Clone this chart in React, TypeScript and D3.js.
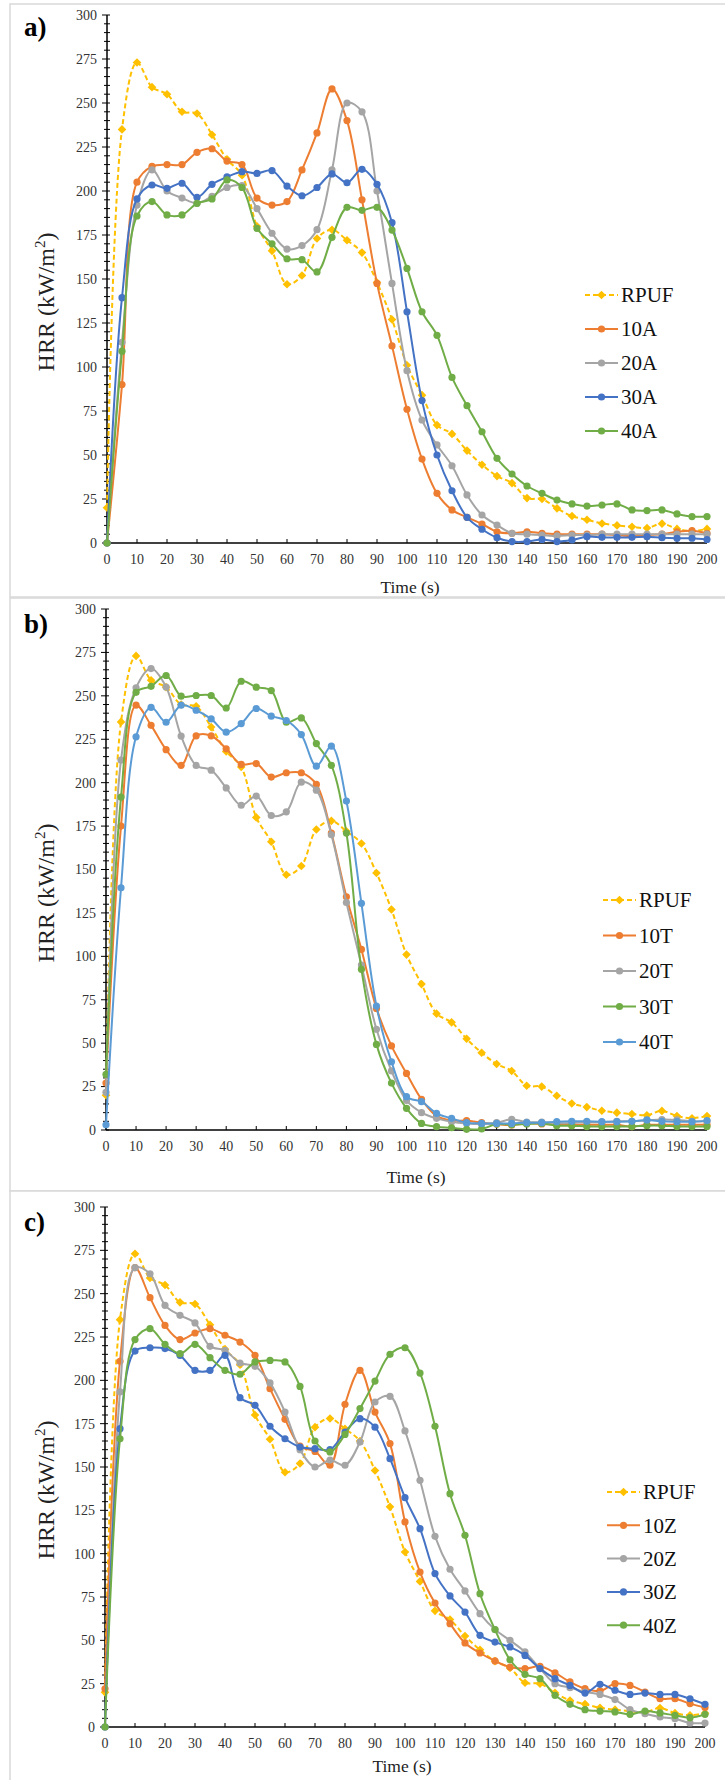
import React from 'react';
import * as d3 from 'd3';

// Time axis (s) shared by every series
const TIME = [0, 5, 10, 15, 20, 25, 30, 35, 40, 45, 50, 55, 60, 65, 70, 75, 80, 85, 90, 95, 100,
  105, 110, 115, 120, 125, 130, 135, 140, 145, 150, 155, 160, 165, 170, 175, 180, 185, 190, 195, 200];

const X_TICKS = [0, 10, 20, 30, 40, 50, 60, 70, 80, 90, 100, 110, 120, 130, 140, 150, 160, 170, 180, 190, 200];
const Y_TICKS = [0, 25, 50, 75, 100, 125, 150, 175, 200, 225, 250, 275, 300];

// Heat release rate (kW/m²) — neat foam reference
const RPUF = [20, 235, 273, 259, 255, 245, 244, 232, 218, 209, 180, 166, 147, 152, 173, 178, 172, 165, 148, 127,
  101, 84, 67, 62, 52.5, 44.5, 38, 34, 25.5, 25, 19.7, 15.3, 13.2, 11.1, 10, 9.2, 8.5, 11, 8, 6.8, 8];

// Series A
const A10 = [0, 90, 205, 214, 215, 215, 222, 224, 217, 215, 196, 192, 194, 212, 233, 258, 240, 195, 147.5, 112,
  76, 47.7, 28.2, 18.8, 14.6, 10.8, 6.4, 5.5, 6.4, 5.5, 5, 5, 5, 5, 4.5, 4, 4.5, 5, 6.4, 7, 5.5];
const A20 = [0, 114, 192, 212, 200, 196, 193, 197, 202, 203, 190, 176, 167, 169, 178, 212, 250, 245, 200, 147.5,
  97.9, 69.9, 55.7, 43.9, 27.3, 15.9, 10.2, 5.5, 5, 4.5, 4, 4.5, 4.5, 5, 5, 5, 5, 5, 5, 5, 5];
const A30 = [0, 139.4, 195.5, 203.4, 201.5, 204.4, 196.4, 203.8, 208, 211, 210, 211.6, 202.8, 197.3, 202, 209.7, 204.7, 212.3, 203.8, 182,
  131.4, 80.9, 50, 29.7, 14.6, 7.8, 3, 0.8, 0.8, 2, 0.8, 1.7, 3.6, 3.2, 3.2, 3.2, 3.6, 3, 2.7, 2.7, 2];
const A40 = [0, 109, 185.8, 194, 186.4, 186.4, 193, 195.5, 206.3, 202, 178.8, 170, 161.5, 161, 154, 173.7, 190.7, 189, 190.7, 177.8,
  156, 131.4, 118, 94.1, 78, 63.2, 48.1, 39.2, 32.4, 28.2, 24.4, 22.2, 21, 21.6, 22.2, 18.8, 18.4, 18.8, 16.5, 15, 15];

// Series T
const T10 = [27, 175, 244.6, 233, 219, 210, 227, 227, 219.5, 210.5, 211, 203.2, 205.7, 205.7, 199, 171, 134.3, 104, 70, 48.4,
  32.6, 17.7, 8, 5.5, 5.4, 4.2, 3.4, 2.9, 3.8, 3.5, 3, 3, 3, 3, 3, 2, 3, 3, 3, 3, 3];
const T20 = [21.7, 213, 254.6, 265.7, 255.1, 226.8, 209.9, 207.2, 197, 187, 192.3, 181.1, 183.2, 200.3, 195.7, 170, 131, 95, 58, 34,
  17, 10, 6.7, 4.8, 3.8, 3.4, 4.2, 6.1, 4.5, 4.5, 4, 4, 4.5, 4.5, 5, 5, 5.5, 6, 5.8, 5, 5];
const T30 = [32, 191.7, 252, 255.5, 261.7, 249.8, 250.2, 250.2, 243, 258.4, 255, 253, 234.8, 237.3, 222.5, 210, 171, 92.5, 49.3, 27,
  12.5, 3.8, 1.9, 1.3, 0.4, 0.6, 3.4, 3, 3.5, 3.8, 2.5, 2.5, 2, 2, 2, 2, 2.5, 2.5, 2, 2, 2];
const T40 = [3, 139.5, 226.4, 243.4, 234.8, 244.6, 241.7, 236.7, 229.1, 234, 242.7, 238.3, 235.8, 227.7, 209.5, 221, 189.4, 130.5, 71.4, 39.3,
  19.2, 16.3, 9.6, 6.7, 4.2, 3.8, 3.8, 3.8, 4.2, 4.2, 4.8, 5, 5, 4.8, 4.8, 5, 5.8, 5, 4.8, 4.8, 5.4];

// Series Z
const Z10 = [22, 211, 265, 247.7, 231.7, 223.5, 227.3, 229.8, 226, 222.1, 214.4, 195.2, 177.5, 162, 159, 151, 186.2, 205.8, 181.7, 163.5,
  118.3, 89.4, 71.5, 59.6, 48.5, 42.7, 38.1, 34.6, 33.7, 35, 31.2, 26, 22.1, 20.8, 25, 24, 20.2, 16.3, 16.3, 13.5, 11.2];
const Z20 = [0, 193.3, 265, 261.5, 243.3, 237.5, 233.1, 219.6, 217.3, 210, 208.1, 198.5, 181.7, 160, 150, 154, 151, 164.4, 187.5, 190.8,
  170.8, 142.3, 110, 91, 78.5, 65.4, 56.2, 50, 43.3, 33.7, 25, 22.7, 20.2, 18.8, 15.8, 10, 7.7, 5.8, 4.8, 2.3, 2.3];
const Z30 = [0, 172.1, 216.9, 218.8, 218.3, 214.4, 205.8, 205.8, 214.4, 190, 185.6, 173.5, 166.3, 161.5, 160.6, 160, 170.2, 177.9, 173, 154.8,
  132.3, 114.4, 88.5, 75.6, 66.3, 52.9, 49, 46.2, 41.3, 33.7, 27.9, 24, 19.6, 24.6, 21.2, 18.8, 19.6, 18.8, 18.8, 16.3, 13.1];
const Z40 = [0, 166.3, 223.5, 229.8, 220.8, 215.4, 220.8, 213.1, 205.8, 203.5, 210.6, 211.5, 210.6, 196.5, 165, 158.7, 168.8, 183.7, 199.6, 215,
  218.8, 204.2, 173.5, 134.6, 110.6, 76.9, 56.2, 38.8, 30.4, 27.9, 18.3, 13.1, 10, 9.2, 8.7, 7.3, 9.2, 8.1, 6.7, 5.4, 7.3];

const GOLD = '#FFC000';
const ORANGE = '#ED7D31';
const GRAY = '#A5A5A5';
const BLUE = '#4472C4';
const GREEN = '#70AD47';
const LIGHT_BLUE = '#5B9BD5';

const FONT = '"Liberation Serif", "Times New Roman", Times, serif';

type Series = { name: string; values: number[]; color: string; dashed?: boolean };
type Panel = {
  letter: string;
  series: Series[];
  frameTop: number; frameBottom: number;
  x0: number; x1: number; yTop: number; yBottom: number;
  letterY: number; timeX: number; timeY: number; yLabelY: number;
  legendX: number; legendY: number; legendStep: number;
};

const ref = (): Series => ({ name: 'RPUF', values: RPUF, color: GOLD, dashed: true });

const PANELS: Panel[] = [
  {
    letter: 'a)',
    series: [ref(), { name: '10A', values: A10, color: ORANGE }, { name: '20A', values: A20, color: GRAY },
      { name: '30A', values: A30, color: BLUE }, { name: '40A', values: A40, color: GREEN }],
    frameTop: 4, frameBottom: 597, x0: 107, x1: 707, yTop: 15, yBottom: 543,
    letterY: 36, timeX: 410, timeY: 587, yLabelY: 302, legendX: 585, legendY: 295, legendStep: 34,
  },
  {
    letter: 'b)',
    series: [ref(), { name: '10T', values: T10, color: ORANGE }, { name: '20T', values: T20, color: GRAY },
      { name: '30T', values: T30, color: GREEN }, { name: '40T', values: T40, color: LIGHT_BLUE }],
    frameTop: 598, frameBottom: 1191, x0: 106, x1: 707, yTop: 609, yBottom: 1130,
    letterY: 633, timeX: 416, timeY: 1177, yLabelY: 893, legendX: 603, legendY: 900, legendStep: 35.5,
  },
  {
    letter: 'c)',
    series: [ref(), { name: '10Z', values: Z10, color: ORANGE }, { name: '20Z', values: Z20, color: GRAY },
      { name: '30Z', values: Z30, color: BLUE }, { name: '40Z', values: Z40, color: GREEN }],
    frameTop: 1191, frameBottom: 1790, x0: 105, x1: 705, yTop: 1207, yBottom: 1727,
    letterY: 1231, timeX: 402, timeY: 1766, yLabelY: 1490, legendX: 607, legendY: 1492, legendStep: 33.3,
  },
];

const diamondPath = (r: number) => `M0,${-r}L${r},0L0,${r}L${-r},0Z`;

function Marker({ s, x, y }: { s: Series; x: number; y: number }) {
  if (s.dashed) {
    return <path d={diamondPath(4.3)} transform={`translate(${x},${y})`} fill={s.color} />;
  }
  return <circle cx={x} cy={y} r={3.6} fill={s.color} />;
}

function ChartPanel({ p }: { p: Panel }) {
  const x = d3.scaleLinear().domain([0, 200]).range([p.x0, p.x1]);
  const y = d3.scaleLinear().domain([0, 300]).range([p.yBottom, p.yTop]);
  const line = d3.line<number>()
    .x((_, i) => x(TIME[i]))
    .y((v) => y(v))
    .curve(d3.curveCatmullRom.alpha(0.5));
  const minor = d3.range(0, 301, 5);

  return (
    <g>
      <rect x={10} y={p.frameTop} width={740} height={p.frameBottom - p.frameTop}
        fill="#fff" stroke="#d9d9d9" strokeWidth={1.5} />
      <text x={24} y={p.letterY} fontFamily={FONT} fontWeight="bold" fontSize={27} fill="#000">{p.letter}</text>

      {/* y axis */}
      <line x1={p.x0} x2={p.x0} y1={y(300)} y2={y(0)} stroke="#000" strokeWidth={1.5} />
      {minor.map((v) => (
        <line key={'m' + v} x1={p.x0 - (v % 25 === 0 ? 5 : 3)} x2={p.x0 + 3} y1={y(v)} y2={y(v)}
          stroke="#000" strokeWidth={1} />
      ))}
      {Y_TICKS.map((v) => (
        <text key={'y' + v} x={p.x0 - 10} y={y(v)} dy="0.35em" textAnchor="end"
          fontFamily={FONT} fontSize={14} fill="#333">{v}</text>
      ))}

      {/* x axis */}
      <line x1={p.x0} x2={p.x1} y1={y(0)} y2={y(0)} stroke="#000" strokeWidth={1.5} />
      {X_TICKS.map((t) => (
        <g key={'x' + t}>
          <line x1={x(t)} x2={x(t)} y1={y(0)} y2={y(0) - 4} stroke="#000" strokeWidth={1} />
          <text x={x(t)} y={y(0) + 16} dy="0.35em" textAnchor="middle"
            fontFamily={FONT} fontSize={14} fill="#333">{t}</text>
        </g>
      ))}
      <text x={p.timeX} y={p.timeY} dy="0.35em" textAnchor="middle"
        fontFamily={FONT} fontSize={17.5} fill="#222">Time (s)</text>
      <text transform={`translate(46,${p.yLabelY}) rotate(-90)`} textAnchor="middle" dy="0.35em"
        fontFamily={FONT} fontSize={24} fill="#222">
        HRR (kW/m<tspan dy={-9} fontSize={15}>2</tspan><tspan dy={9}>)</tspan>
      </text>

      {/* data */}
      {p.series.map((s) => (
        <g key={s.name}>
          <path d={line(s.values) || ''} fill="none" stroke={s.color} strokeWidth={2}
            strokeDasharray={s.dashed ? '5,3' : undefined} />
          {s.values.map((v, i) => (
            <Marker key={i} s={s} x={x(TIME[i])} y={y(v)} />
          ))}
        </g>
      ))}

      {/* legend */}
      {p.series.map((s, i) => {
        const ly = p.legendY + i * p.legendStep;
        return (
          <g key={'l' + s.name}>
            <line x1={p.legendX} x2={p.legendX + 33} y1={ly} y2={ly} stroke={s.color} strokeWidth={2}
              strokeDasharray={s.dashed ? '5,3' : undefined} />
            <Marker s={s} x={p.legendX + 16.5} y={ly} />
            <text x={p.legendX + 36} y={ly} dy="0.35em" fontFamily={FONT} fontSize={21} fill="#111">{s.name}</text>
          </g>
        );
      })}
    </g>
  );
}

export default function App() {
  return (
    <svg width={725} height={1780} style={{ position: 'absolute', left: 0, top: 0, display: 'block', background: '#fff' }}>
      <rect x={0} y={0} width={725} height={1780} fill="#fff" />
      {PANELS.map((p) => <ChartPanel key={p.letter} p={p} />)}
    </svg>
  );
}
